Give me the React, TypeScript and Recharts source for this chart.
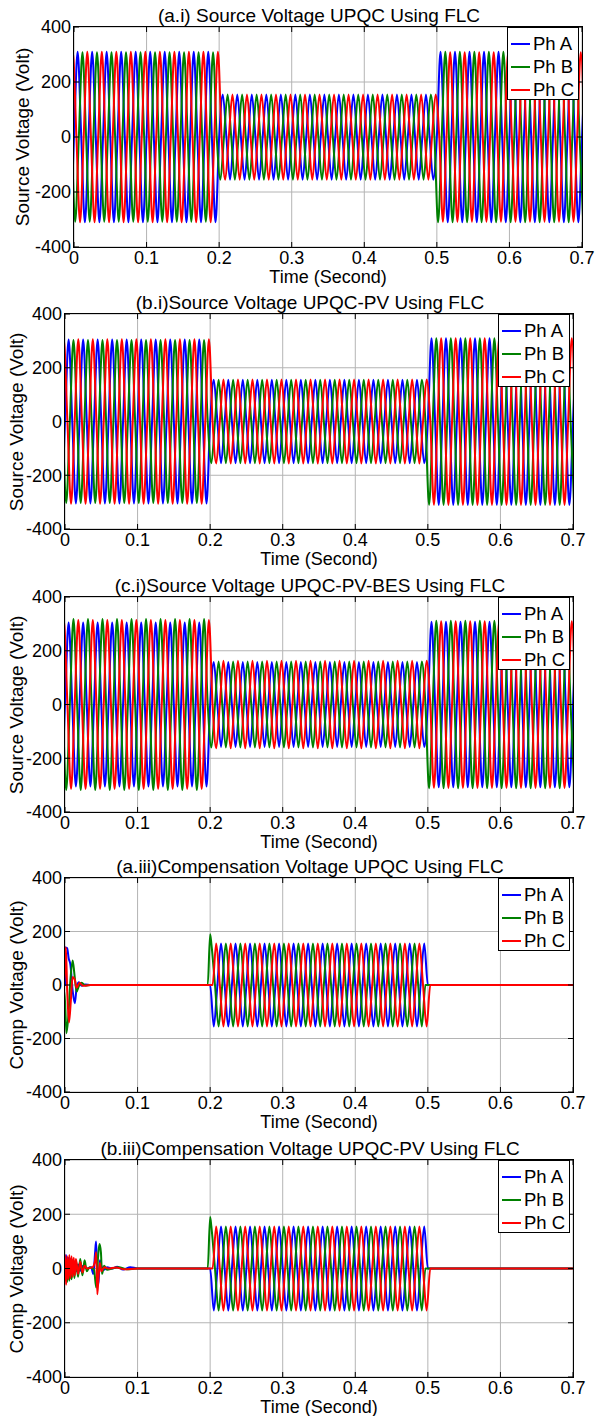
import { CartesianGrid, Legend, Line, LineChart, XAxis, YAxis } from "recharts";

const FONT = '"Liberation Sans", Arial, sans-serif';
const PAGE_W = 595;

const TIME_TICKS = [0, 0.1, 0.2, 0.3, 0.4, 0.5, 0.6, 0.7];
const VOLT_TICKS = [-400, -200, 0, 200, 400];
const PHASE_NAMES = ["Ph A", "Ph B", "Ph C"];
const PHASE_COLORS = ["#0000ff", "#008000", "#ff0000"];

// 50 Hz supply: ten cycles between 0 and 0.2 s
const CYCLE = 0.02;
// Ph B lags Ph A by a third of a cycle, Ph C leads it by a third
const PHASE_LAG = [0, 1 / 3, -1 / 3];
// normal / sag / normal
const SEG_EDGES = [0, 0.2, 0.5, 0.7];

// peak volts per phase, one value per segment
const aiPeaks = [[310, 155, 310], [308, 155, 310], [310, 155, 308]];
const biPeaks = [[305, 155, 310], [303, 155, 310], [306, 156, 310]];
const ciPeaks = [[305, 158, 308], [318, 160, 312], [314, 163, 310]];
const compPeaks = [[0, 155, 0], [0, 155, 0], [0, 155, 0]];

type Pair = [number, number];

// start-up transients of the compensation voltage, [time, volts]
const aiiiStartA: Pair[] = [[0, 140], [0.003, 138], [0.005, 100], [0.0075, 75], [0.0105, -20], [0.0135, -68], [0.016, -10], [0.019, 10], [0.023, -3], [0.028, 2], [0.035, 0]];
const aiiiStartB: Pair[] = [[0, -60], [0.002, -180], [0.0045, -120], [0.0075, 20], [0.0105, 92], [0.013, 40], [0.016, -25], [0.019, -5], [0.023, 8], [0.028, -2], [0.035, 0]];
const aiiiStartC: Pair[] = [[0, 60], [0.0012, 141], [0.003, -20], [0.0055, -140], [0.008, -60], [0.0105, 30], [0.0135, 20], [0.016, -10], [0.02, 8], [0.025, -3], [0.035, 0]];

const biiiStartA: Pair[] = [[0, 0], [0.0015, 50], [0.003, -30], [0.0045, 40], [0.006, -20], [0.0075, 35], [0.009, -25], [0.0105, 30], [0.012, -15], [0.0135, 25], [0.015, -10], [0.018, 15], [0.021, -8], [0.025, 10], [0.03, 0], [0.036, 5], [0.039, -20], [0.0415, 60], [0.0428, 100], [0.0445, -20], [0.046, -60], [0.048, 30], [0.05, 10], [0.054, -5], [0.058, 5], [0.065, 0], [0.072, 6], [0.08, -4], [0.09, 5], [0.1, 0]];
const biiiStartB: Pair[] = [[0, -40], [0.0015, 30], [0.003, -50], [0.0045, 20], [0.006, -45], [0.0075, 30], [0.009, -40], [0.011, 25], [0.013, -35], [0.015, 30], [0.018, -30], [0.021, 35], [0.024, -25], [0.027, 30], [0.03, -10], [0.034, 5], [0.04, -5], [0.043, -70], [0.0455, 40], [0.0475, 90], [0.0495, 60], [0.051, -20], [0.054, 10], [0.058, -5], [0.065, 0], [0.074, 5], [0.085, -3], [0.1, 0]];
const biiiStartC: Pair[] = [[0, 50], [0.0015, -60], [0.003, 45], [0.0045, -40], [0.006, 50], [0.0075, -35], [0.009, 45], [0.0105, -30], [0.012, 40], [0.0135, -25], [0.015, 35], [0.018, -20], [0.021, 25], [0.024, -15], [0.027, 10], [0.03, 0], [0.038, 5], [0.0415, 30], [0.043, 60], [0.0445, -95], [0.046, -40], [0.048, 20], [0.05, -10], [0.054, 5], [0.06, 0], [0.07, 4], [0.082, -3], [0.1, 0]];

// overshoot of Ph B when the sag starts
const compSagSpikeB: Pair[] = [[0.2, 190]];

type Pt = { t: number; v: number };

function segIndex(t: number) {
  for (let i = SEG_EDGES.length - 2; i >= 0; i--) if (t >= SEG_EDGES[i]) return i;
  return 0;
}

// peaks and zero crossings of one phase, with the read-off transients merged in
function buildPhase(peaks: number[], lag: number, polarity: number, start: Pair[] = [], spikes: Pair[] = []): Pt[] {
  const q = CYCLE / 4;
  let t0 = q + lag * CYCLE + (polarity < 0 ? CYCLE / 2 : 0);
  while (t0 > -q) t0 -= CYCLE;
  const shape = [1, 0, -1, 0];
  const end = SEG_EDGES[SEG_EDGES.length - 1] + q;
  const s0 = start.length ? start[0][0] : 1;
  const s1 = start.length ? start[start.length - 1][0] : 0;
  const pts: Pt[] = [];
  for (let j = 0; t0 + j * q <= end; j++) {
    const t = t0 + j * q;
    if (t >= s0 && t <= s1) continue;
    pts.push({ t, v: shape[j % 4] * peaks[segIndex(t)] });
  }
  for (const [t, v] of [...start, ...spikes]) pts.push({ t, v });
  return pts.sort((a, b) => a.t - b.t);
}

function sourceSet(peaks: number[][]) {
  return [0, 1, 2].map((i) => buildPhase(peaks[i], PHASE_LAG[i], 1));
}

const PANELS = [
  {
    title: "(a.i) Source Voltage UPQC Using FLC",
    yLabel: "Source Voltage (Volt)",
    box: { left: 74, right: 582, top: 27, bottom: 247 },
    yLabelX: 22,
    series: sourceSet(aiPeaks),
  },
  {
    title: "(b.i)Source Voltage UPQC-PV Using FLC",
    yLabel: "Source Voltage (Volt)",
    box: { left: 65, right: 573, top: 314, bottom: 529 },
    yLabelX: 16,
    series: sourceSet(biPeaks),
  },
  {
    title: "(c.i)Source Voltage UPQC-PV-BES Using FLC",
    yLabel: "Source Voltage (Volt)",
    box: { left: 65, right: 573, top: 597, bottom: 812 },
    yLabelX: 16,
    series: sourceSet(ciPeaks),
  },
  {
    title: "(a.iii)Compensation Voltage UPQC Using FLC",
    yLabel: "Comp Voltage (Volt)",
    box: { left: 65, right: 573, top: 878, bottom: 1092 },
    yLabelX: 16,
    series: [
      buildPhase(compPeaks[0], PHASE_LAG[0], -1, aiiiStartA),
      buildPhase(compPeaks[1], PHASE_LAG[1], -1, aiiiStartB, compSagSpikeB),
      buildPhase(compPeaks[2], PHASE_LAG[2], -1, aiiiStartC),
    ],
  },
  {
    title: "(b.iii)Compensation Voltage UPQC-PV Using FLC",
    yLabel: "Comp Voltage (Volt)",
    box: { left: 65, right: 573, top: 1160, bottom: 1377 },
    yLabelX: 16,
    series: [
      buildPhase(compPeaks[0], PHASE_LAG[0], -1, biiiStartA),
      buildPhase(compPeaks[1], PHASE_LAG[1], -1, biiiStartB, compSagSpikeB),
      buildPhase(compPeaks[2], PHASE_LAG[2], -1, biiiStartC),
    ],
  },
];

function PhaseLegend({ payload }: any) {
  return (
    <div
      style={{
        background: "#fff",
        border: "1px solid #000",
        width: 72,
        height: 73,
        boxSizing: "border-box",
        paddingTop: 4,
        fontFamily: FONT,
        fontSize: 18.5,
        color: "#000",
      }}
    >
      {(payload || []).map((p: any, i: number) => (
        <div key={i} style={{ display: "flex", alignItems: "center", height: 23, lineHeight: "23px" }}>
          <span style={{ display: "inline-block", width: 19, height: 2, background: p.color, marginLeft: 3, marginRight: 3 }} />
          <span>{p.value}</span>
        </div>
      ))}
    </div>
  );
}

function Panel({ cfg }: { cfg: (typeof PANELS)[number] }) {
  const { left, right, top, bottom } = cfg.box;
  const plotH = bottom - top;
  const mTop = 10;
  const axisH = 40;
  const chartH = mTop + plotH + axisH;
  const svgBottom = mTop + plotH;

  const xTick = (props: any) => {
    const { x, payload } = props;
    return (
      <g>
        <line x1={x} x2={x} y1={svgBottom} y2={svgBottom - 5} stroke="#000" />
        <line x1={x} x2={x} y1={mTop} y2={mTop + 5} stroke="#000" />
        <text x={x} y={svgBottom + 17} textAnchor="middle" fontSize={18} fontFamily={FONT} fill="#000">
          {payload.value}
        </text>
      </g>
    );
  };

  const yTick = (props: any) => {
    const { y, payload } = props;
    return (
      <g>
        <line x1={left} x2={left + 5} y1={y} y2={y} stroke="#000" />
        <line x1={right - 5} x2={right} y1={y} y2={y} stroke="#000" />
        <text x={left - 3} y={y} dy="0.36em" textAnchor="end" fontSize={18} fontFamily={FONT} fill="#000">
          {payload.value}
        </text>
      </g>
    );
  };

  const cx = (left + right) / 2;

  return (
    <>
      <div
        style={{
          position: "absolute",
          left: cx - 9,
          top: top - 5 - 16,
          transform: "translateX(-50%)",
          whiteSpace: "nowrap",
          fontSize: 19,
          lineHeight: 1,
        }}
      >
        {cfg.title}
      </div>
      <div style={{ position: "absolute", left: 0, top: top - mTop }}>
        <LineChart width={PAGE_W} height={chartH} margin={{ top: mTop, right: PAGE_W - right, bottom: 0, left: 0 }}>
          <CartesianGrid stroke="#b4b4b4" strokeWidth={1} />
          <XAxis
            type="number"
            dataKey="t"
            domain={[0, 0.7]}
            ticks={TIME_TICKS}
            interval={0}
            allowDataOverflow
            axisLine={false}
            tickLine={false}
            tick={xTick}
            height={axisH}
          />
          <YAxis
            type="number"
            domain={[-400, 400]}
            ticks={VOLT_TICKS}
            interval={0}
            allowDataOverflow
            axisLine={false}
            tickLine={false}
            tick={yTick}
            width={left}
          />
          <Legend
            layout="horizontal"
            verticalAlign="middle"
            align="center"
            content={<PhaseLegend />}
            wrapperStyle={{ position: "absolute", top: mTop, right: PAGE_W - right + 3, left: "auto", width: "auto", height: "auto" }}
          />
          {cfg.series.map((pts, i) => (
            <Line
              key={PHASE_NAMES[i]}
              data={pts}
              dataKey="v"
              name={PHASE_NAMES[i]}
              type="monotone"
              stroke={PHASE_COLORS[i]}
              strokeWidth={2}
              dot={false}
              activeDot={false}
              isAnimationActive={false}
            />
          ))}
        </LineChart>
      </div>
      <div
        style={{
          position: "absolute",
          left: left - 0.75,
          top: top - 0.75,
          width: right - left + 1.5,
          height: plotH + 1.5,
          border: "1.5px solid #000",
          boxSizing: "border-box",
          pointerEvents: "none",
        }}
      />
      <div
        style={{
          position: "absolute",
          left: cx,
          top: bottom + 36 - 15.2,
          transform: "translateX(-50%)",
          whiteSpace: "nowrap",
          fontSize: 18,
          lineHeight: 1,
        }}
      >
        Time (Second)
      </div>
      <div
        style={{
          position: "absolute",
          left: cfg.yLabelX,
          top: (top + bottom) / 2,
          transform: "translate(-50%, -50%) rotate(-90deg)",
          whiteSpace: "nowrap",
          fontSize: 19,
          lineHeight: 1,
        }}
      >
        {cfg.yLabel}
      </div>
    </>
  );
}

export default function App() {
  return (
    <div
      style={{
        position: "absolute",
        left: 0,
        top: 0,
        width: PAGE_W,
        height: 1416,
        background: "#fff",
        fontFamily: FONT,
        color: "#000",
      }}
    >
      {PANELS.map((cfg) => (
        <Panel key={cfg.title} cfg={cfg} />
      ))}
    </div>
  );
}
